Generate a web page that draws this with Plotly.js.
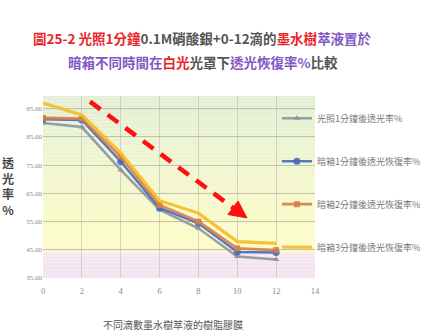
<!DOCTYPE html>
<html>
<head>
<meta charset="utf-8">
<script src="https://cdn.plot.ly/plotly-3.0.1.min.js"></script>
<style>
  html, body { margin: 0; padding: 0; background: #fff; }
  #chart { width: 433px; height: 332px; }
</style>
</head>
<body>
<div id="chart"></div>
<script>
// Drops of ink-tree extract (x axis)
const drops = [0, 2, 4, 6, 8, 10, 12];

// Transmittance after 1 min of light, and recovery after 1/2/3 min in the dark box (%)
const lit1min   = [89.9, 88.5, 73.3, 59.2, 52.6, 42.6, 41.6];
const dark1min  = [91.3, 91.0, 76.3, 59.8, 54.4, 44.2, 44.0];
const dark2min  = [91.7, 91.5, 78.1, 60.9, 55.0, 45.5, 44.9];
const dark3min  = [97.0, 92.8, 79.3, 62.4, 58.0, 47.9, 47.3];

const seriesNames = [
  '光照1分鐘後透光率%',
  '暗箱1分鐘後透光恢復率%',
  '暗箱2分鐘後透光恢復率%',
  '暗箱3分鐘後透光恢復率%'
];

const xTicks = [0, 2, 4, 6, 8, 10, 12, 14];
const yTicks = [35, 45, 55, 65, 75, 85, 95];

const Y_MIN = 35, Y_MAX = 99.5;

const serif = '"Liberation Serif", "Noto Sans CJK TC", serif';
const cjk = '"Noto Sans CJK TC", "Noto Sans CJK SC", sans-serif';

function trace(y, name, color, width, symbol, msize, group) {
  const t = {
    x: drops, y: y, name: name, type: 'scatter',
    mode: symbol ? 'lines+markers' : 'lines',
    line: { color: color, width: width },
    legendgroup: group,
    hoverinfo: 'skip'
  };
  if (symbol) t.marker = { symbol: symbol, size: msize, color: color };
  return t;
}

const data = [
  trace(lit1min,  seriesNames[0], 'rgba(140,148,160,0.9)', 2.5, 'triangle-up', 6, 'a'),
  trace(dark1min, seriesNames[1], 'rgba(70,105,190,0.9)', 2.5, 'circle', 7, 'b'),
  trace(dark2min, seriesNames[2], 'rgba(214,128,72,0.9)', 2.8, 'square', 6, 'c'),
  trace(dark3min, seriesNames[3], 'rgba(247,190,45,0.95)', 3.2, null, 0, 'd')
];

// Plot-area background: soft green → yellow → lavender bands
const bgStops = [
  [99.5, [225, 237, 211]],
  [85,   [233, 242, 207]],
  [70,   [242, 246, 203]],
  [55,   [250, 250, 198]],
  [45.5, [252, 251, 198]],
  [43,   [245, 230, 238]],
  [35,   [242, 226, 242]]
];
function bgColor(v) {
  for (let i = 0; i < bgStops.length - 1; i++) {
    const [v0, c0] = bgStops[i], [v1, c1] = bgStops[i + 1];
    if (v <= v0 && v >= v1) {
      const f = (v0 - v) / (v0 - v1);
      const c = c0.map((a, k) => Math.round(a + (c1[k] - a) * f));
      return 'rgb(' + c.join(',') + ')';
    }
  }
  return 'rgb(242,226,242)';
}
const shapes = [];
const step = 0.5;
for (let v = Y_MAX; v > Y_MIN; v -= step) {
  const lo = Math.max(Y_MIN, v - step);
  shapes.push({
    type: 'rect', xref: 'x', yref: 'y', x0: 0, x1: 14, y0: lo, y1: v,
    fillcolor: bgColor((v + lo) / 2), line: { width: 0 }, layer: 'below'
  });
}

// Red dashed trend arrow
const arrowStart = [2.42, 97.5], arrowBase = [9.78, 59.9];
const arrowTip = [10.50, 56.3], arrowL = [9.52, 57.5], arrowR = [10.04, 62.3];
shapes.push({
  type: 'line', xref: 'x', yref: 'y',
  x0: arrowStart[0], y0: arrowStart[1], x1: arrowBase[0], y1: arrowBase[1],
  line: { color: '#ff1010', width: 4.5, dash: '13px,9px' }, layer: 'above'
});
shapes.push({
  type: 'path', xref: 'x', yref: 'y',
  path: 'M' + arrowTip.join(',') + ' L' + arrowL.join(',') + ' L' + arrowR.join(',') + ' Z',
  fillcolor: '#ff1010', line: { color: '#ff1010', width: 1 }, layer: 'above'
});

const red = '#e8252b', purple = '#8457c4', dark = '#555';
const annotations = [
  {
    xref: 'paper', yref: 'paper', x: 0.588, y: 1.319, xanchor: 'center', yanchor: 'middle',
    showarrow: false, font: { family: cjk, size: 13.5, color: dark, weight: 'bold' },
    text: '<b><span style="color:' + red + '">圖25-2 光照1分鐘</span>0.1M硝酸銀+0-12滴的' +
          '<span style="color:' + red + '">墨水樹</span><span style="color:' + purple + '">萃液置於</span></b>'
  },
  {
    xref: 'paper', yref: 'paper', x: 0.588, y: 1.187, xanchor: 'center', yanchor: 'middle',
    showarrow: false, font: { family: cjk, size: 13.5, color: dark, weight: 'bold' },
    text: '<b><span style="color:' + purple + '">暗箱不同時間在</span><span style="color:' + red + '">白光</span>' +
          '光罩下<span style="color:' + purple + '">透光恢復率%</span>比較</b>'
  },
  {
    xref: 'paper', yref: 'paper', x: -0.129, y: 0.505, xanchor: 'center', yanchor: 'middle',
    showarrow: false, font: { family: cjk, size: 12, color: '#444' },
    text: '<b>透<br>光<br>率<br>%</b>'
  },
  {
    xref: 'paper', yref: 'paper', x: 0.478, y: -0.253, xanchor: 'center', yanchor: 'middle',
    showarrow: false, font: { family: cjk, size: 10, color: '#555' },
    text: '不同滴數墨水樹萃液的樹脂膠膜'
  }
];

const layout = {
  width: 433, height: 332,
  margin: { l: 43, r: 118, t: 96, b: 54, autoexpand: false },
  paper_bgcolor: '#ffffff',
  plot_bgcolor: 'rgba(0,0,0,0)',
  showlegend: true,
  legend: {
    x: 0.86, xanchor: 'left', y: 0.958, yanchor: 'top',
    bgcolor: 'rgba(0,0,0,0)', borderwidth: 0,
    traceorder: 'grouped', tracegroupgap: 24,
    font: { family: cjk, size: 9, color: '#777' }
  },
  xaxis: {
    range: [0, 14], tickvals: xTicks, ticktext: xTicks.map(String),
    showgrid: true, gridcolor: 'rgba(200,202,180,0.8)', gridwidth: 1,
    zeroline: false, showline: false, ticks: '', ticklabelstandoff: 6,
    tickfont: { family: serif, size: 8.5, color: '#888' }
  },
  yaxis: {
    range: [Y_MIN, Y_MAX], tickvals: yTicks, ticktext: yTicks.map(v => v.toFixed(2)),
    showgrid: true, gridcolor: 'rgba(185,188,165,0.9)', gridwidth: 1,
    zeroline: false, showline: false, ticks: '',
    tickfont: { family: serif, size: 7, color: '#888' }
  },
  shapes: shapes,
  annotations: annotations
};

Plotly.newPlot('chart', data, layout, { displayModeBar: false, staticPlot: true });
</script>
</body>
</html>
